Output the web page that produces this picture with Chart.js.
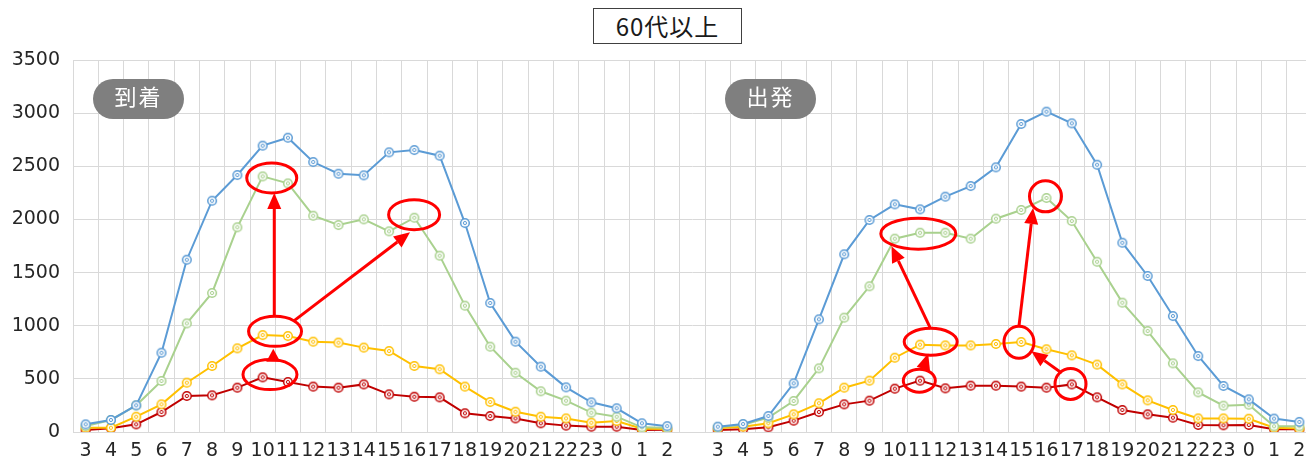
<!DOCTYPE html>
<html>
<head>
<meta charset="utf-8">
<script src="https://cdn.jsdelivr.net/npm/chart.js@4/dist/chart.umd.min.js"></script>
<style>
  html, body { margin: 0; padding: 0; background: #fff; overflow: hidden; }
  #wrap { position: relative; width: 1320px; height: 459px; }
  #title {
    position: absolute; left: 593px; top: 8px; width: 147px; height: 34px;
    border: 1px solid #404040; background: #fff;
    font: 24px "Noto Sans CJK JP", sans-serif; letter-spacing: 1px;
    color: #1a1a1a; text-align: center; line-height: 34px;
  }
  .pill {
    position: absolute; top: 79px; width: 91px; height: 40px; border-radius: 20px;
    background: #7f7f7f; color: #fff; text-align: center; line-height: 40px;
    font: 22px "Noto Sans CJK JP", sans-serif; letter-spacing: 2px;
  }
</style>
</head>
<body>
<div id="wrap">
  <canvas id="myChart"></canvas>
  <div id="title">60代以上</div>
  <div class="pill" style="left:93px">到着</div>
  <div class="pill" style="left:725px">出発</div>
</div>
<script>
// hours 3..23, 0..2, once for arrivals and once for departures, blank slot between
let hours = ['3', '4', '5', '6', '7', '8', '9', '10', '11', '12', '13', '14', '15', '16', '17', '18', '19', '20', '21', '22', '23', '0', '1', '2'];
let labelArray = [...hours, '', ...hours];

let arrivalBlue = [72, 113, 251, 746, 1621, 2176, 2418, 2694, 2769, 2540, 2430, 2415, 2631, 2653, 2600, 1966, 1214, 850, 615, 420, 279, 223, 82, 55];
let arrivalGreen = [56, 113, 251, 480, 1022, 1308, 1926, 2405, 2339, 2035, 1947, 2001, 1888, 2016, 1659, 1189, 803, 558, 383, 295, 182, 144, 44, 40];
let arrivalYellow = [41, 40, 144, 260, 464, 621, 787, 912, 903, 850, 841, 794, 762, 621, 590, 427, 282, 191, 144, 128, 88, 103, 30, 28];
let arrivalRed = [19, 35, 72, 188, 339, 345, 417, 514, 470, 427, 417, 448, 354, 332, 326, 176, 150, 128, 82, 60, 50, 50, 19, 22];

let departureBlue = [50, 75, 150, 458, 1060, 1672, 1995, 2142, 2095, 2214, 2314, 2490, 2898, 3014, 2904, 2515, 1781, 1468, 1091, 715, 433, 307, 126, 95];
let departureGreen = [44, 69, 135, 292, 599, 1076, 1371, 1819, 1875, 1875, 1819, 2007, 2089, 2202, 1985, 1602, 1217, 950, 646, 373, 248, 257, 54, 54];
let departureYellow = [35, 50, 82, 166, 270, 417, 483, 699, 822, 815, 815, 828, 847, 778, 721, 634, 448, 298, 207, 128, 128, 125, 41, 32];
let departureRed = [19, 25, 44, 107, 188, 260, 295, 408, 483, 411, 436, 436, 427, 417, 448, 326, 207, 166, 135, 66, 63, 66, 25, 25];

// red call-outs: ellipses at (category index, value) and arrows between them
let ringMarks = [
    { x: 7.36, y: 2390, w: 50, h: 30 },
    { x: 7.49, y: 947, w: 53, h: 30 },
    { x: 7.29, y: 540, w: 54, h: 30 },
    { x: 12.99, y: 2045, w: 51, h: 30 },
    { x: 32.93, y: 1866, w: 75, h: 31 },
    { x: 33.42, y: 848, w: 53, h: 27 },
    { x: 32.97, y: 483, w: 32, h: 23 },
    { x: 36.91, y: 844, w: 30, h: 32 },
    { x: 37.96, y: 2217, w: 32, h: 31 },
    { x: 38.95, y: 452, w: 31, h: 31 },
];
let arrowMarks = [
    { from: [7.46, 1088], to: [7.46, 2249] },
    { from: [7.42, 662], to: [7.42, 784] },
    { from: [8.21, 1041], to: [12.83, 1879] },
    { from: [33.42, 970], to: [31.87, 1747] },
    { from: [33.12, 587], to: [33.32, 738] },
    { from: [36.91, 994], to: [37.47, 2108] },
    { from: [38.6, 556], to: [37.4, 759] },
];

function joined(a, d) {
    return [...a, null, ...d];
}

function marker(color) {
    const c = document.createElement('canvas');
    c.width = 12;
    c.height = 12;
    const g = c.getContext('2d');
    g.fillStyle = '#fff';
    g.strokeStyle = color;
    g.lineWidth = 1.5;
    g.beginPath();
    g.arc(6, 6, 4.3, 0, Math.PI * 2);
    g.fill();
    g.stroke();
    g.lineWidth = 1;
    g.beginPath();
    g.arc(6, 6, 1.6, 0, Math.PI * 2);
    g.stroke();
    return c;
}

function series(data, color) {
    const m = marker(color);
    return {
        data: data,
        borderColor: color,
        backgroundColor: color,
        borderWidth: 2,
        pointStyle: m,
        pointRadius: 5,
        fill: false,
        spanGaps: false,
        tension: 0,
    };
}

const callouts = {
    id: 'callouts',
    afterDatasetsDraw(chart) {
        const ctx = chart.ctx;
        const xs = chart.scales.x;
        const ys = chart.scales.y;
        ctx.save();
        ctx.strokeStyle = '#ff0000';
        ctx.fillStyle = '#ff0000';
        ctx.lineWidth = 3;
        ringMarks.forEach(r => {
            ctx.beginPath();
            ctx.ellipse(xs.getPixelForValue(r.x), ys.getPixelForValue(r.y), r.w / 2, r.h / 2, 0, 0, Math.PI * 2);
            ctx.stroke();
        });
        arrowMarks.forEach(a => {
            const x0 = xs.getPixelForValue(a.from[0]), y0 = ys.getPixelForValue(a.from[1]);
            const x1 = xs.getPixelForValue(a.to[0]), y1 = ys.getPixelForValue(a.to[1]);
            const len = Math.hypot(x1 - x0, y1 - y0);
            const ux = (x1 - x0) / len, uy = (y1 - y0) / len;
            const head = Math.min(16, len);
            const bx = x1 - ux * head, by = y1 - uy * head;
            if (len > head) {
                ctx.beginPath();
                ctx.moveTo(x0, y0);
                ctx.lineTo(bx, by);
                ctx.stroke();
            }
            ctx.beginPath();
            ctx.moveTo(x1, y1);
            ctx.lineTo(bx - uy * 7, by + ux * 7);
            ctx.lineTo(bx + uy * 7, by - ux * 7);
            ctx.closePath();
            ctx.fill();
        });
        ctx.restore();
    }
};

const tickFont = { family: '"DejaVu Sans", sans-serif', size: 19 };

const ctx = document.getElementById('myChart').getContext('2d');
const myChart = new Chart(ctx, {
    type: 'line',
    data: {
        labels: labelArray,
        datasets: [
            series(joined(arrivalBlue, departureBlue), '#5b9bd5'),
            series(joined(arrivalGreen, departureGreen), '#a9d18e'),
            series(joined(arrivalYellow, departureYellow), '#ffc000'),
            series(joined(arrivalRed, departureRed), '#c00000'),
        ]
    },
    plugins: [callouts],
    options: {
        responsive: true,
        maintainAspectRatio: false,
        animation: false,
        layout: { padding: { top: 60, right: 8, left: 0, bottom: 0 } },
        plugins: {
            legend: { display: false },
            tooltip: { enabled: false },
        },
        scales: {
            x: {
                offset: true,
                grid: { offset: true, color: '#d9d9d9', drawTicks: false },
                border: { color: '#d9d9d9' },
                ticks: { autoSkip: false, maxRotation: 0, padding: 8, color: '#262626', font: tickFont },
                afterFit(s) { s.height = 27; },
            },
            y: {
                min: 0,
                max: 3500,
                grid: { color: '#d9d9d9', drawTicks: false },
                border: { display: false },
                ticks: { stepSize: 500, padding: 13, color: '#262626', font: tickFont, callback: v => String(v) },
                afterFit(s) { s.width = 73; },
            }
        }
    }
});
</script>
</body>
</html>
